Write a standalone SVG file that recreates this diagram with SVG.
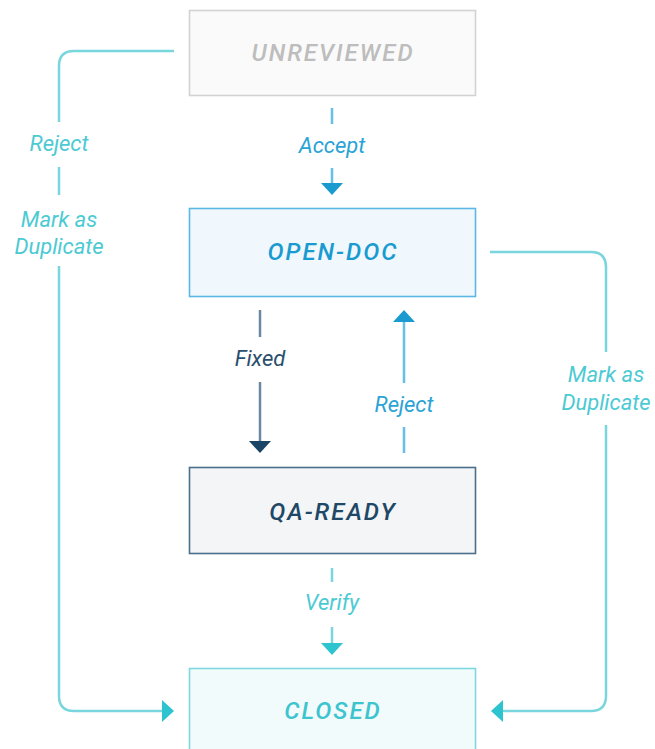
<svg xmlns="http://www.w3.org/2000/svg" width="655" height="749" viewBox="0 0 655 749">
<style>
.box{stroke-width:1.6}
.nt{font-family:Roboto,"Liberation Sans",sans-serif;font-style:italic;font-weight:500;font-size:24px;letter-spacing:2px;text-anchor:middle}
.lt{font-family:Roboto,"Liberation Sans",sans-serif;font-style:italic;font-size:22px;text-anchor:middle}
.ln{fill:none;stroke-width:2.5}
.teal{stroke:#7ad6dd}
.tealh{fill:#2ec4cf}
.tealt{fill:#4ccad3}
.blue{stroke:#66bfe6}
.blueh{fill:#1a9bd0}
.bluet{fill:#2aa3d6}
.navy{stroke:#6a8aa3}
.navyh{fill:#1b4566}
.navyt{fill:#2a4f6e}
</style>
<rect width="655" height="749" fill="#ffffff"/>
<g id="connectors">
  <g id="accept">
    <path class="ln blue" d="M332,108 V124 M332,168 V184"/>
    <polygon class="blueh" points="321,183 343,183 332,195"/>
    <text class="lt bluet" x="332" y="153">Accept</text>
  </g>
  <g id="fixed">
    <path class="ln navy" d="M260,310 V337 M260,382 V442"/>
    <polygon class="navyh" points="249,441 271,441 260,453"/>
    <text class="lt navyt" x="260" y="366">Fixed</text>
  </g>
  <g id="reject-up">
    <path class="ln blue" d="M404,321 V383 M404,427 V453"/>
    <polygon class="blueh" points="393,322 415,322 404,310"/>
    <text class="lt bluet" x="404" y="412">Reject</text>
  </g>
  <g id="verify">
    <path class="ln teal" d="M332,568 V582 M332,627 V644"/>
    <polygon class="tealh" points="321,643 343,643 332,655"/>
    <text class="lt tealt" x="332" y="610">Verify</text>
  </g>
  <g id="left-loop">
    <path class="ln teal" d="M174,51 H74 Q59,51 59,66 V122 M59,167 V195 M59,266 V696 Q59,711 74,711 H163"/>
    <polygon class="tealh" points="162,700 162,722 174,711"/>
    <text class="lt tealt" x="59" y="151">Reject</text>
    <text class="lt tealt" x="59" y="227">Mark as</text>
    <text class="lt tealt" x="59" y="254">Duplicate</text>
  </g>
  <g id="right-loop">
    <path class="ln teal" d="M490,252 H591 Q606,252 606,267 V352 M606,425 V696 Q606,711 591,711 H502"/>
    <polygon class="tealh" points="503,700 503,722 491,711"/>
    <text class="lt tealt" x="606" y="382">Mark as</text>
    <text class="lt tealt" x="606" y="410">Duplicate</text>
  </g>
</g>
<g id="node-unreviewed">
  <rect class="box" x="189.5" y="10.5" width="286" height="85" fill="#fafafa" stroke="#d2d2d2"/>
  <text class="nt" x="333" y="61" fill="#bdbdbd">UNREVIEWED</text>
</g>
<g id="node-open-doc">
  <rect class="box" x="189.5" y="208.5" width="286" height="88" fill="#f0f8fd" stroke="#5bb8e3"/>
  <text class="nt" x="333" y="260" fill="#1a9bd0">OPEN-DOC</text>
</g>
<g id="node-qa-ready">
  <rect class="box" x="189.5" y="467.5" width="286" height="86" fill="#f3f5f7" stroke="#4a6f8c"/>
  <text class="nt" x="333" y="520" fill="#1e4866">QA-READY</text>
</g>
<g id="node-closed">
  <rect class="box" x="189.5" y="668.5" width="286" height="90" fill="#f2fbfc" stroke="#7dd8df"/>
  <text class="nt" x="333" y="719" fill="#3cc4cf">CLOSED</text>
</g>
</svg>
